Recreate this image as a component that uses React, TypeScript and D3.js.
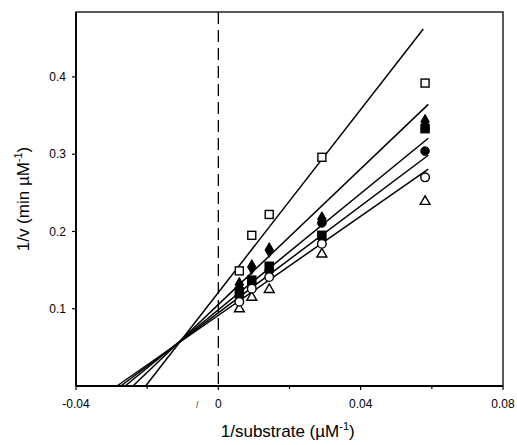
import React from "react";
import * as d3 from "d3";

// 1/substrate values (µM^-1) for the five substrate concentrations
const xValues = [0.0059, 0.0094, 0.0143, 0.0291, 0.0581];

// 1/v values per inhibitor series
const openSquare = [0.149, 0.195, 0.222, 0.296, 0.392];
const filledDiamond = [0.131, 0.154, 0.176, 0.216, 0.342];
const filledSquare = [0.122, 0.137, 0.155, 0.195, 0.333];
const filledCircle = [0.116, 0.133, 0.149, 0.211, 0.304];
const openCircle = [0.109, 0.126, 0.141, 0.184, 0.27];
const openTriangle = [0.101, 0.116, 0.126, 0.172, 0.24];

// fitted lines: intercept, slope, end of line on x
const lineIntercepts = [0.121, 0.1054, 0.0986, 0.0947, 0.0914];
const lineSlopes = [5.92, 4.39, 3.763, 3.456, 3.206];
const lineEnds = [0.0576, 0.059, 0.059, 0.059, 0.059];

const xTicks = [-0.04, 0, 0.04, 0.08];
const xMinorTicks = [-0.02, 0.02, 0.06];
const yTicks = [0.1, 0.2, 0.3, 0.4];

const width = 517;
const height = 445;
const margin = { top: 12, right: 14, bottom: 59, left: 76 };

const font = "'Liberation Sans', Arial, Helvetica, sans-serif";

const App = () => {
    const x = d3.scaleLinear()
        .domain([-0.04, 0.08])
        .range([margin.left, width - margin.right]);
    const y = d3.scaleLinear()
        .domain([0, 0.484])
        .range([height - margin.bottom, margin.top]);

    const x0 = margin.left;
    const x1 = width - margin.right;
    const y0 = height - margin.bottom;
    const y1 = margin.top;

    const lineGen = d3.line<[number, number]>()
        .x(d => x(d[0]))
        .y(d => y(d[1]));

    const fits = lineIntercepts.map((b, i) => {
        const m = lineSlopes[i];
        const start = -b / m;
        const pts: [number, number][] = [[start, 0], [lineEnds[i], b + m * lineEnds[i]]];
        return lineGen(pts);
    });

    const diamond = d3.symbol().type(d3.symbolDiamond).size(62)();
    const triangle = d3.symbol().type(d3.symbolTriangle).size(42)();

    const series = [
        { vals: filledCircle, kind: "circle", fill: "#000" },
        { vals: filledSquare, kind: "square", fill: "#000" },
        { vals: filledDiamond, kind: "diamond", fill: "#000" },
        { vals: openTriangle, kind: "triangle", fill: "#fff" },
        { vals: openCircle, kind: "circle", fill: "#fff" },
        { vals: openSquare, kind: "square", fill: "#fff" },
    ];

    const marker = (kind: string, fill: string, cx: number, cy: number, key: string) => {
        const sw = fill === "#fff" ? 1.4 : 1;
        if (kind === "circle") {
            return <circle key={key} cx={cx} cy={cy} r={4.3} fill={fill} stroke="#000" strokeWidth={sw} />;
        }
        if (kind === "square") {
            const s = fill === "#fff" ? 8 : 8.5;
            return <rect key={key} x={cx - s / 2} y={cy - s / 2} width={s} height={s} fill={fill} stroke="#000" strokeWidth={sw} />;
        }
        if (kind === "diamond") {
            return <path key={key} d={diamond || ""} transform={`translate(${cx},${cy})`} fill={fill} stroke="#000" strokeWidth={sw} />;
        }
        return <path key={key} d={triangle || ""} transform={`translate(${cx},${cy + 1})`} fill={fill} stroke="#000" strokeWidth={sw} />;
    };

    return (
        <svg width={width} height={height} style={{ position: "absolute", left: 0, top: 0, background: "#fff" }}>
            {/* frame */}
            <rect x={x0} y={y1} width={x1 - x0} height={y0 - y1} fill="none" stroke="#000" strokeWidth={1.3} />
            <line x1={x0} x2={x1} y1={y0} y2={y0} stroke="#000" strokeWidth={2} />
            <line x1={x0} x2={x0} y1={y0} y2={y1} stroke="#000" strokeWidth={1.8} />

            {/* dashed line at x = 0 */}
            <line x1={x(0)} x2={x(0)} y1={y1} y2={y0} stroke="#000" strokeWidth={1.3} strokeDasharray="12,6" />

            {/* y ticks */}
            {yTicks.map(t => (
                <g key={"y" + t}>
                    <line x1={x0 - 4} x2={x0} y1={y(t)} y2={y(t)} stroke="#000" strokeWidth={1.2} />
                    <text x={x0 - 10} y={y(t)} dy="0.35em" textAnchor="end" fontFamily={font} fontSize={12}>{t}</text>
                </g>
            ))}

            {/* x ticks */}
            {xTicks.map(t => (
                <g key={"x" + t}>
                    <line x1={x(t)} x2={x(t)} y1={y0} y2={y0 + 4} stroke="#000" strokeWidth={1.2} />
                    <text x={x(t)} y={y0 + 22} textAnchor="middle" fontFamily={font} fontSize={12}>{t}</text>
                </g>
            ))}
            {xMinorTicks.map(t => (
                <line key={"xm" + t} x1={x(t)} x2={x(t)} y1={y0} y2={y0 + 3} stroke="#000" strokeWidth={1.2} />
            ))}
            <text x={x(-0.006)} y={y0 + 22} textAnchor="middle" fontFamily={font} fontSize={9} fill="#555" fontStyle="italic">l</text>

            {/* fitted lines */}
            {fits.map((d, i) => (
                <path key={"fit" + i} d={d || ""} fill="none" stroke="#000" strokeWidth={1.5} />
            ))}

            {/* points */}
            {series.map((s, si) => s.vals.map((v, i) => marker(s.kind, s.fill, x(xValues[i]), y(v), `p${si}-${i}`)))}

            {/* axis titles */}
            <text x={x(0.0195)} y={437} textAnchor="middle" fontFamily={font} fontSize={17}>
                1/substrate (µM<tspan dy={-7} fontSize={11}>-1</tspan><tspan dy={7}>)</tspan>
            </text>
            <text transform={`translate(29,${y(0.242)}) rotate(-90)`} textAnchor="middle" fontFamily={font} fontSize={17}>
                1/v (min µM<tspan dy={-7} fontSize={11}>-1</tspan><tspan dy={7}>)</tspan>
            </text>
        </svg>
    );
};

export default App;
